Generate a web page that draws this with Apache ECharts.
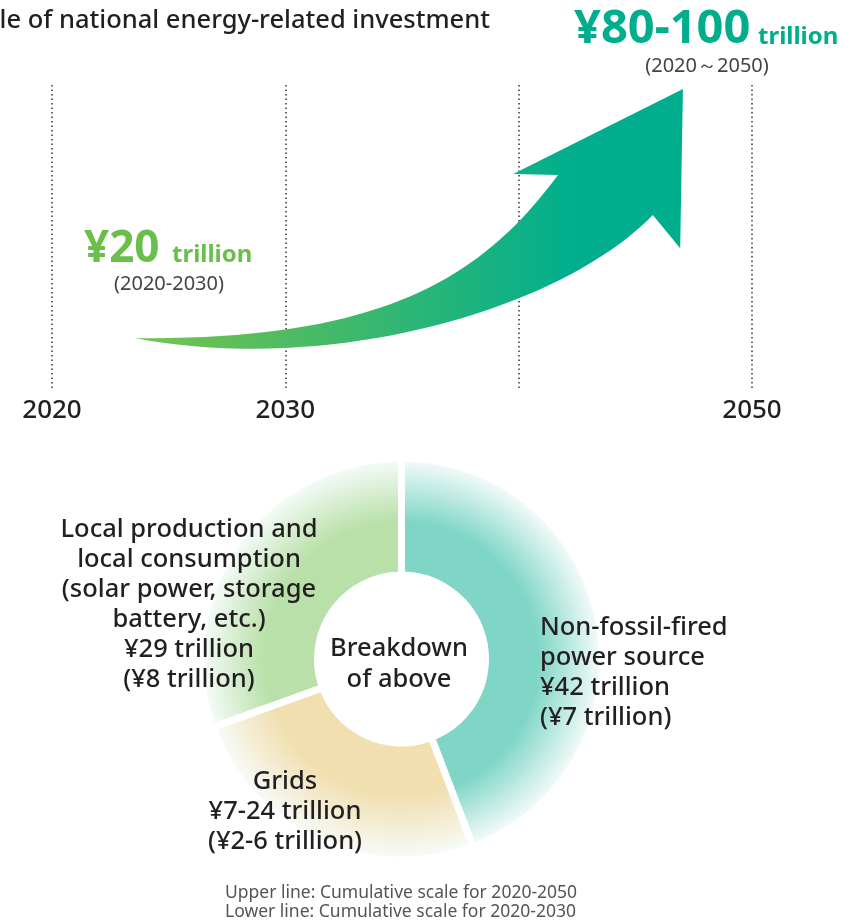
<!DOCTYPE html>
<html>
<head>
<meta charset="utf-8">
<script src="https://cdn.jsdelivr.net/npm/echarts@6/dist/echarts.min.js"></script>
<style>
  html, body { margin: 0; padding: 0; background: #fff; }
  #chart { width: 857px; height: 924px; }
</style>
</head>
<body>
<div id="chart"></div>
<script>
// timeline
const years = [2020, 2030, 2040, 2050];
const yearLabels = ['2020', '2030', '', '2050'];
// arrow: [year, trillion yen] at tail and at tip
const arrowTail = [2023.56, 17];
const arrowTip = [2047.04, 98.7];
const headline = ['¥80-100', 'trillion', '(2020～2050)'];
const midline = ['¥20', 'trillion', '(2020-2030)'];

// breakdown (upper = 2020-2050, lower = 2020-2030)
const segNames = ['Non-fossil-fired\npower source', 'Grids', 'Local production and\nlocal consumption\n(solar power, storage\nbattery, etc.)'];
const segValues = [42, 24, 29];
const segUpper = ['¥42 trillion', '¥7-24 trillion', '¥29 trillion'];
const segLower = ['(¥7 trillion)', '(¥2-6 trillion)', '(¥8 trillion)'];
const segColors = ['#7fd6c6', '#f1dfb0', '#b8e0a8'];

const FONT = "'Noto Sans', sans-serif";
const chart = echarts.init(document.getElementById('chart'));

const center = [401.5, 659];
const rOuter = 201;

function radial(c) {
  return new echarts.graphic.RadialGradient(center[0], center[1], rOuter, [
    {offset: 0, color: c},
    {offset: 0.68, color: c},
    {offset: 1, color: '#f7fcfb'}
  ], true);
}

function cubic(p0, p1, p2, p3, n) {
  const out = [];
  for (let i = 0; i <= n; i++) {
    const t = i / n, s = 1 - t;
    out.push([
      s*s*s*p0[0] + 3*s*s*t*p1[0] + 3*s*t*t*p2[0] + t*t*t*p3[0],
      s*s*s*p0[1] + 3*s*s*t*p1[1] + 3*s*t*t*p2[1] + t*t*t*p3[1]
    ]);
  }
  return out;
}

const segLabelPos = [
  {x: 540, y: 613, align: 'left'},
  {x: 285, y: 767, align: 'center'},
  {x: 189, y: 515, align: 'center'}
];

const option = {
  animation: false,
  grid: {left: 52, right: 105, top: 85, bottom: 534},
  xAxis: {
    type: 'value', min: 2020, max: 2050, interval: 10,
    axisLine: {show: false}, axisTick: {show: false},
    axisLabel: {
      formatter: v => yearLabels[years.indexOf(v)] || '',
      fontSize: 26, fontWeight: 500, color: '#231f20', fontFamily: FONT, margin: 8
    },
    splitLine: {show: true, lineStyle: {color: '#333', width: 1.5, type: [1.5, 3]}}
  },
  yAxis: {type: 'value', min: 0, max: 100, show: false},
  series: [{
    type: 'custom',
    silent: true,
    data: [arrowTail.concat(arrowTip)],
    renderItem(params, api) {
      const a = api.coord([api.value(0), api.value(1)]);
      const b = api.coord([api.value(2), api.value(3)]);
      const P = (u, v) => [a[0] + u * (b[0] - a[0]), a[1] + v * (b[1] - a[1])];
      let pts = cubic(P(0, 0), P(0.447, -0.008), P(0.630, 0.233), P(0.772, 0.655), 40);
      pts.push(P(0.690, 0.659), P(1, 1), P(0.995, 0.361), P(0.945, 0.494));
      pts = pts.concat(cubic(P(0.945, 0.494), P(0.776, 0.112), P(0.356, -0.149), P(0, 0), 40).slice(1));
      const fill = new echarts.graphic.LinearGradient(a[0], 0, P(0.8, 0)[0], 0, [
        {offset: 0, color: '#78c34b'},
        {offset: 1, color: '#00ae8e'}
      ], true);
      return {type: 'polygon', shape: {points: pts}, style: {fill: fill}};
    }
  }, {
    type: 'pie',
    silent: true,
    z: 1,
    center: center,
    radius: [84, rOuter],
    startAngle: 90,
    clockwise: true,
    label: {show: false},
    labelLine: {show: false},
    itemStyle: {borderColor: '#fff', borderWidth: 7},
    data: segNames.map((n, i) => ({name: n, value: segValues[i], itemStyle: {color: radial(segColors[i])}}))
  }],
  graphic: [
    {type: 'text', z: 100, style: {text: 'Scale of national energy-related investment', x: 490, y: 21, align: 'right', verticalAlign: 'middle',
      font: '500 25.5px ' + FONT, fill: '#231f20'}},
    {type: 'text', z: 100, style: {text: headline[0], x: 574, y: 30, verticalAlign: 'middle', font: 'bold 47px ' + FONT, fill: '#00ae8d'}},
    {type: 'text', z: 100, style: {text: headline[1], x: 758, y: 37, verticalAlign: 'middle', font: 'bold 24px ' + FONT, fill: '#00ae8d'}},
    {type: 'text', z: 100, style: {text: headline[2], x: 707, y: 66, align: 'center', verticalAlign: 'middle', font: '20px ' + FONT, fill: '#444'}},
    {type: 'text', z: 100, style: {text: midline[0], x: 84, y: 249, verticalAlign: 'middle', font: 'bold 44px ' + FONT, fill: '#6abf4b'}},
    {type: 'text', z: 100, style: {text: midline[1], x: 172, y: 255, verticalAlign: 'middle', font: 'bold 24px ' + FONT, fill: '#6abf4b'}},
    {type: 'text', z: 100, style: {text: midline[2], x: 169, y: 284, align: 'center', verticalAlign: 'middle', font: '20px ' + FONT, fill: '#444'}},
    {type: 'text', z: 100, style: {text: 'Breakdown\nof above', x: 399, y: 633, align: 'center', verticalAlign: 'top', lineHeight: 31,
      font: '500 25.5px ' + FONT, fill: '#231f20'}},
    {type: 'text', z: 100, style: {text: 'Upper line: Cumulative scale for 2020-2050\nLower line: Cumulative scale for 2020-2030',
      x: 225, y: 884, verticalAlign: 'top', lineHeight: 19, font: '17.5px ' + FONT, fill: '#555'}}
  ].concat(segNames.map((n, i) => ({
    type: 'text',
    z: 100,
    style: {
      text: n + '\n' + segUpper[i] + '\n' + segLower[i],
      x: segLabelPos[i].x, y: segLabelPos[i].y, align: segLabelPos[i].align, verticalAlign: 'top',
      lineHeight: 30, font: '500 25.5px ' + FONT, fill: '#231f20'
    }
  })))
};
chart.setOption(option);
</script>
</body>
</html>
